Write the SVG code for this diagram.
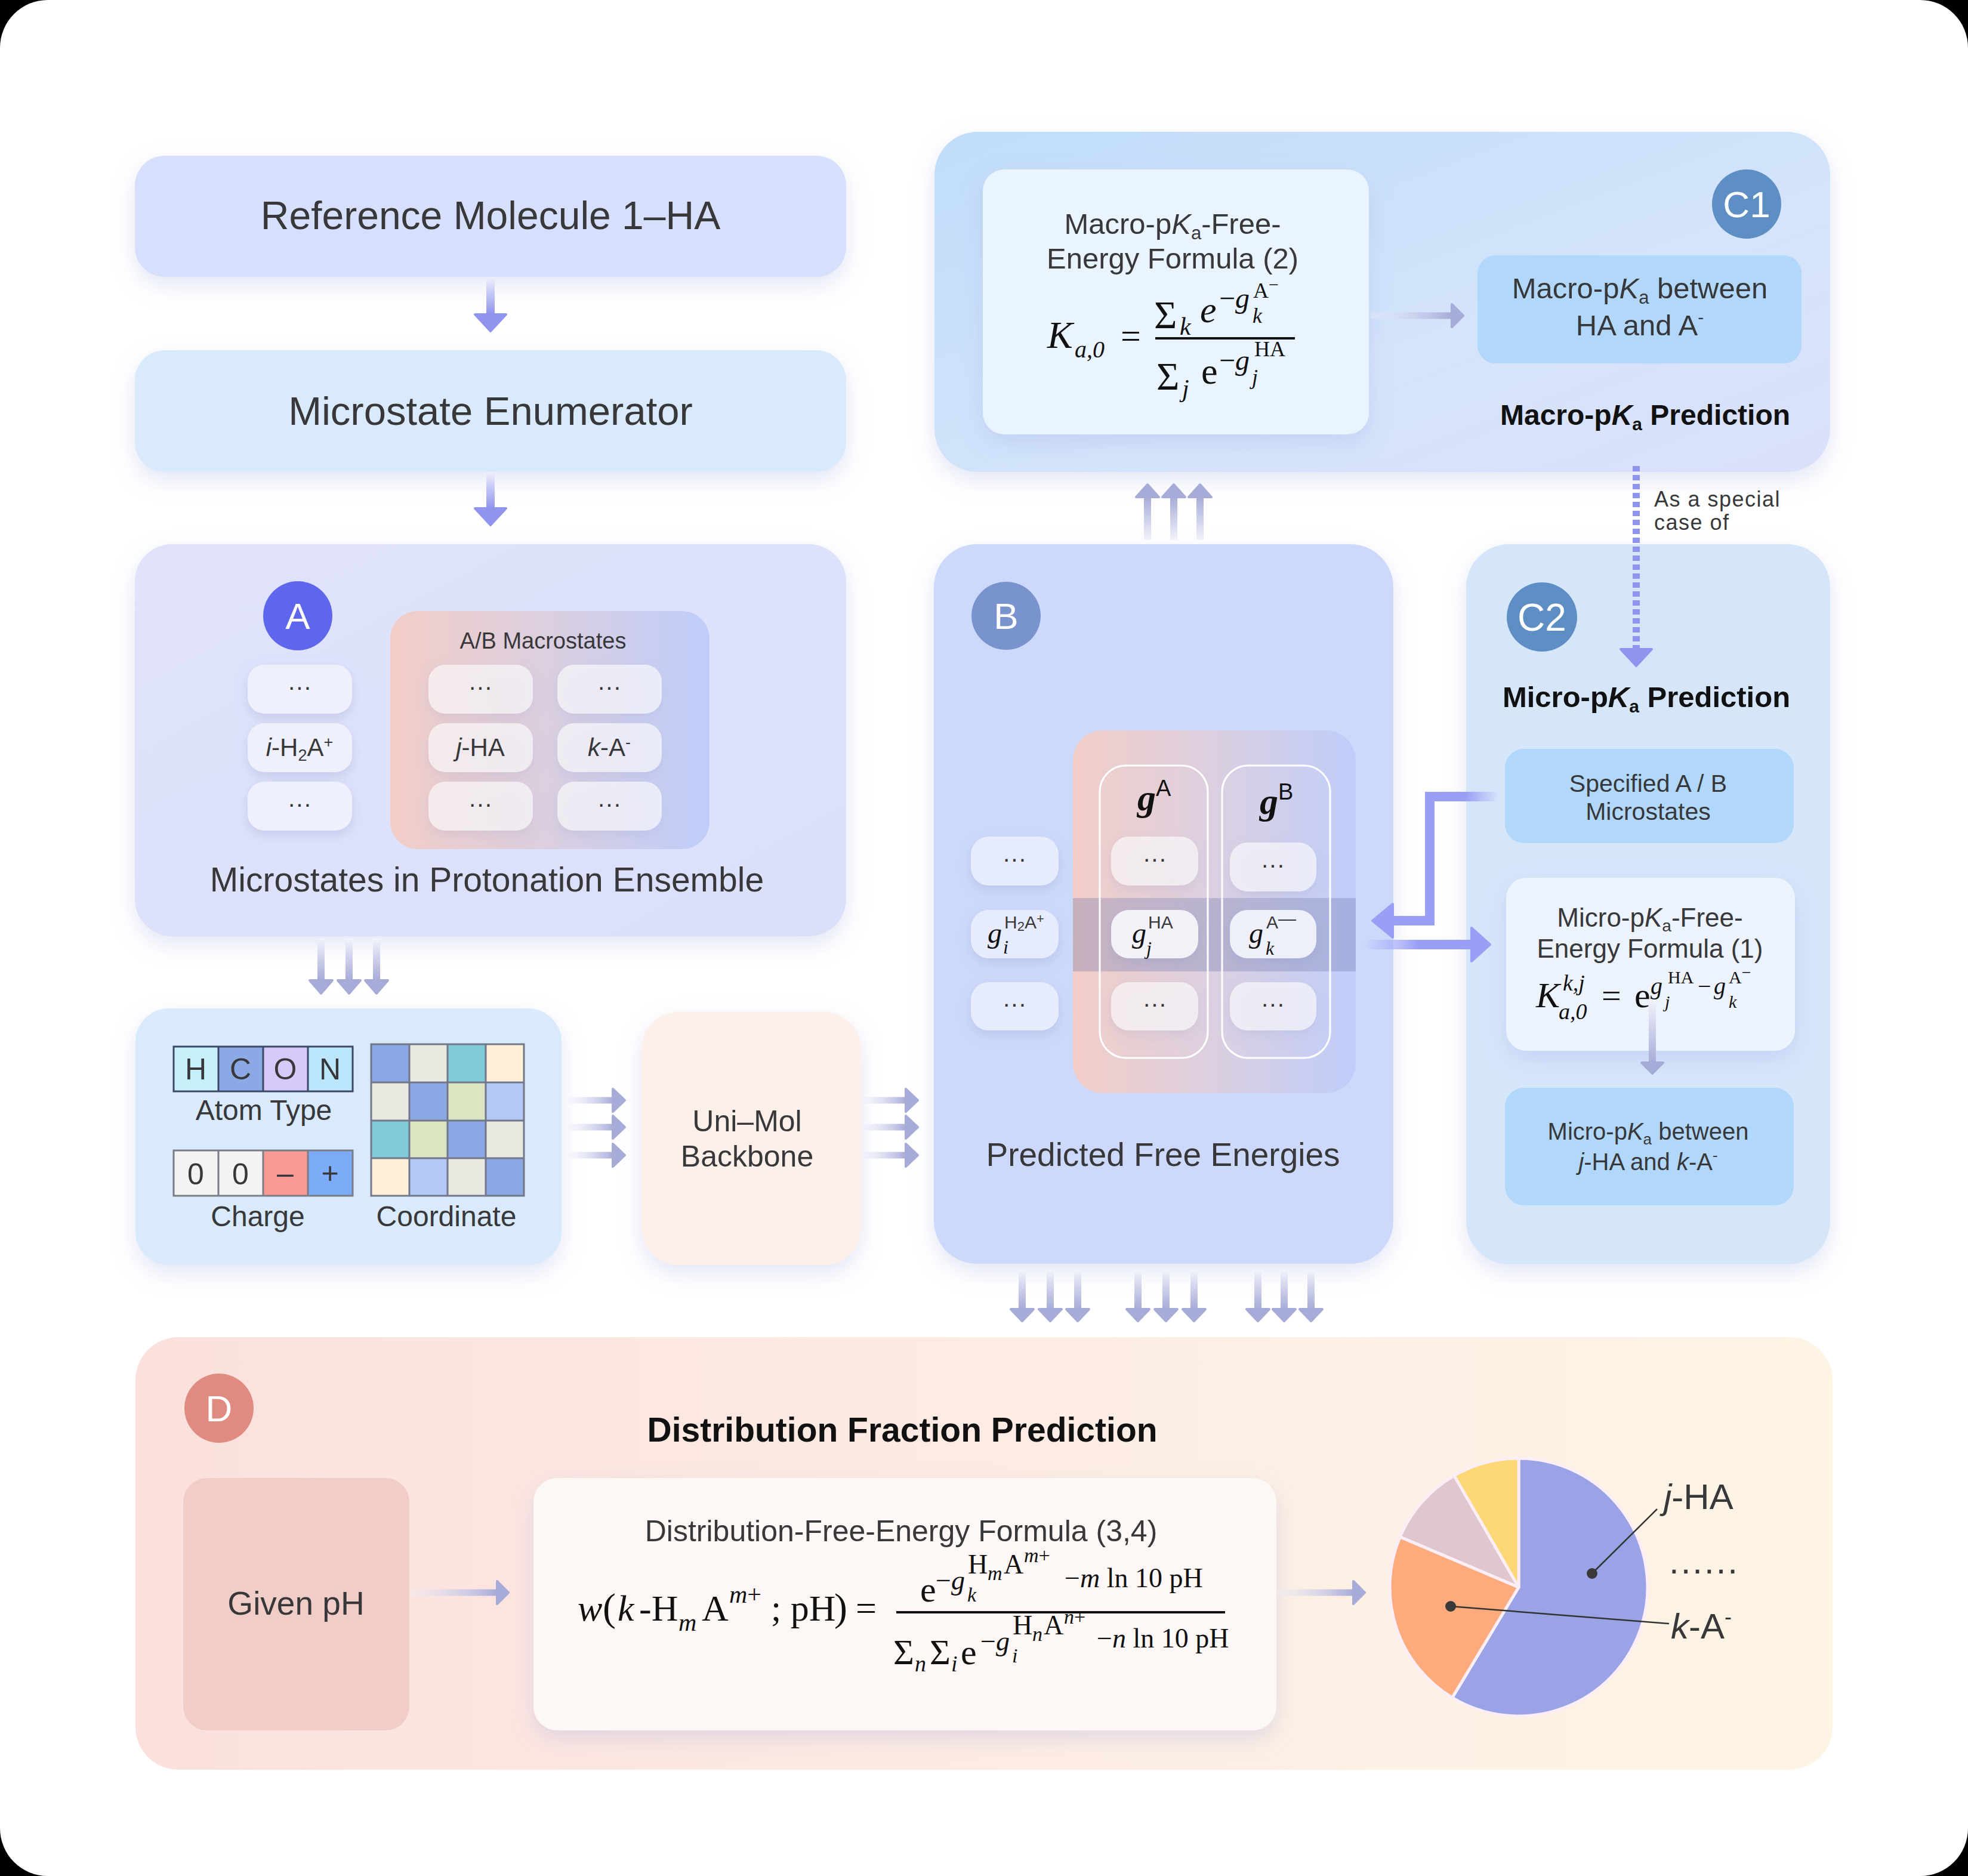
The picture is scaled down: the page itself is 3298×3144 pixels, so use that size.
<svg xmlns="http://www.w3.org/2000/svg" width="3298" height="3144" viewBox="0 0 3298 3144">
<defs>
<style>
text{font-family:"Liberation Sans",Arial,sans-serif;fill:#38383b}
.c{text-anchor:middle}
.m{font-family:"Liberation Serif","Times New Roman",serif;fill:#111}
.i{font-style:italic}
.b{font-weight:bold;fill:#111}
.bd{fill:#fff;text-anchor:middle}
.dt{font-size:40px;text-anchor:middle;fill:#333}
.sb{fill:#fff;fill-opacity:0.62}
.ah{stroke-linejoin:round;stroke-width:4}
</style>
<filter id="sh" x="-10%" y="-15%" width="120%" height="140%"><feDropShadow dx="0" dy="14" stdDeviation="18" flood-color="#9aa3dc" flood-opacity="0.28"/></filter>
<filter id="shs" x="-30%" y="-30%" width="160%" height="180%"><feDropShadow dx="0" dy="8" stdDeviation="10" flood-color="#8f96c8" flood-opacity="0.3"/></filter>
<linearGradient id="gV" x1="0" y1="0" x2="0" y2="1"><stop offset="0" stop-color="#eef0fd"/><stop offset="1" stop-color="#8f94ee"/></linearGradient>
<linearGradient id="gT" x1="0" y1="0" x2="0" y2="1"><stop offset="0" stop-color="#f2f3fb"/><stop offset="1" stop-color="#a7abd8"/></linearGradient>
<linearGradient id="gTU" x1="0" y1="0" x2="0" y2="1"><stop offset="0" stop-color="#a7abd8"/><stop offset="1" stop-color="#f2f3fb"/></linearGradient>
<linearGradient id="gH" x1="0" y1="0" x2="1" y2="0"><stop offset="0" stop-color="#eceefa" stop-opacity="0.3"/><stop offset="1" stop-color="#a7abd8"/></linearGradient>
<linearGradient id="gCa" x1="0" y1="0" x2="1" y2="0"><stop offset="0.55" stop-color="#9a9ff6"/><stop offset="1" stop-color="#9a9ff6" stop-opacity="0"/></linearGradient>
<linearGradient id="gCb" x1="0" y1="0" x2="1" y2="0"><stop offset="0" stop-color="#9a9ff6" stop-opacity="0"/><stop offset="0.5" stop-color="#9a9ff6"/></linearGradient>
<linearGradient id="gAB" x1="0" y1="0" x2="1" y2="0"><stop offset="0" stop-color="#f2cdc7"/><stop offset="0.5" stop-color="#dbcfe0"/><stop offset="1" stop-color="#bfcdfa"/></linearGradient>
<linearGradient id="gC1" x1="0" y1="0" x2="1" y2="1"><stop offset="0" stop-color="#c0ddf9"/><stop offset="0.6" stop-color="#d4e4fb"/><stop offset="1" stop-color="#dbe0fb"/></linearGradient>
<linearGradient id="gD" x1="0" y1="0" x2="1" y2="0"><stop offset="0" stop-color="#fbe0dd"/><stop offset="0.6" stop-color="#fdeee5"/><stop offset="1" stop-color="#fdf4e4"/></linearGradient>
<linearGradient id="gA" x1="0" y1="0" x2="1" y2="1"><stop offset="0" stop-color="#e0e3fb"/><stop offset="1" stop-color="#dcdffa"/></linearGradient>
</defs>

<rect x="0" y="0" width="3298" height="3144" fill="#000"/>
<rect x="0" y="0" width="3298" height="3144" rx="80" fill="#fff"/>

<g id="ref-molecule">
<rect x="226" y="261" width="1192" height="203" rx="50" fill="#d6e0fc" filter="url(#sh)"/>
<text class="c" x="822" y="384" font-size="66">Reference Molecule 1–HA</text>
</g>

<g id="microstate-enumerator">
<rect x="226" y="587" width="1192" height="204" rx="50" fill="#d9eafd" filter="url(#sh)"/>
<text class="c" x="822" y="712" font-size="67">Microstate Enumerator</text>
</g>

<g id="panel-A">
<rect x="226" y="912" width="1192" height="657" rx="62" fill="url(#gA)" filter="url(#sh)"/>
<circle cx="499" cy="1032" r="58" fill="#5f66ee"/>
<text class="bd" x="499" y="1054" font-size="62">A</text>
<rect x="654" y="1024" width="535" height="399" rx="46" fill="url(#gAB)"/>
<text class="c" x="910" y="1087" font-size="38">A/B Macrostates</text>
<g filter="url(#shs)">
<rect x="415" y="1114" width="175" height="82" rx="28" fill="#eef0fc"/>
<rect x="415" y="1212" width="175" height="82" rx="28" fill="#eef0fc"/>
<rect x="415" y="1310" width="175" height="82" rx="28" fill="#eef0fc"/>
<rect class="sb" x="718" y="1114" width="175" height="82" rx="28"/>
<rect class="sb" x="718" y="1212" width="175" height="82" rx="28"/>
<rect class="sb" x="718" y="1310" width="175" height="82" rx="28"/>
<rect class="sb" x="934" y="1114" width="175" height="82" rx="28"/>
<rect class="sb" x="934" y="1212" width="175" height="82" rx="28"/>
<rect class="sb" x="934" y="1310" width="175" height="82" rx="28"/>
</g>
<text class="dt" x="502" y="1165">···</text>
<text class="dt" x="502" y="1361">···</text>
<text class="dt" x="805" y="1165">···</text>
<text class="dt" x="805" y="1361">···</text>
<text class="dt" x="1021" y="1165">···</text>
<text class="dt" x="1021" y="1361">···</text>
<text class="c" x="502" y="1267" font-size="42" fill="#222"><tspan class="i">i</tspan>-H<tspan font-size="27" dy="8">2</tspan><tspan dy="-8">A</tspan><tspan font-size="27" dy="-14">+</tspan></text>
<text class="c" x="805" y="1267" font-size="42" fill="#222"><tspan class="i">j</tspan>-HA</text>
<text class="c" x="1021" y="1267" font-size="42" fill="#222"><tspan class="i">k</tspan>-A<tspan font-size="27" dy="-14">-</tspan></text>
<text class="c" x="816" y="1494" font-size="57">Microstates in Protonation Ensemble</text>
</g>

<g id="input-features">
<rect x="227" y="1690" width="714" height="430" rx="56" fill="#d9eafc" filter="url(#sh)"/>
<rect x="291" y="1754" width="75" height="75" fill="#c6f0fb"/>
<rect x="366" y="1754" width="75" height="75" fill="#8ba9e4"/>
<rect x="441" y="1754" width="75" height="75" fill="#d7c9f9"/>
<rect x="516" y="1754" width="75" height="75" fill="#bbe6fc"/>
<path d="M291 1754H591V1829H291Z M366 1754V1829 M441 1754V1829 M516 1754V1829" fill="none" stroke="#3c4866" stroke-width="3"/>
<text class="c" x="328" y="1809" font-size="50" fill="#111">H</text>
<text class="c" x="403" y="1809" font-size="50" fill="#111">C</text>
<text class="c" x="478" y="1809" font-size="50" fill="#111">O</text>
<text class="c" x="553" y="1809" font-size="50" fill="#111">N</text>
<text class="c" x="442" y="1877" font-size="48">Atom Type</text>
<rect x="291" y="1928" width="75" height="76" fill="#f3f3f3"/>
<rect x="366" y="1928" width="75" height="76" fill="#f3f3f3"/>
<rect x="441" y="1928" width="75" height="76" fill="#fa9a94"/>
<rect x="516" y="1928" width="75" height="76" fill="#7cabf7"/>
<path d="M291 1928H591V2004H291Z M366 1928V2004 M441 1928V2004 M516 1928V2004" fill="none" stroke="#7a7d86" stroke-width="3"/>
<text class="c" x="328" y="1985" font-size="50" fill="#111">0</text>
<text class="c" x="403" y="1985" font-size="50" fill="#111">0</text>
<text class="c" x="478" y="1983" font-size="50" fill="#111">–</text>
<text class="c" x="553" y="1983" font-size="50" fill="#111">+</text>
<text class="c" x="432" y="2055" font-size="48">Charge</text>
<g id="coord-grid">
<rect x="622" y="1750" width="64" height="64" fill="#8aa8e4"/>
<rect x="686" y="1750" width="64" height="64" fill="#e8e9e1"/>
<rect x="750" y="1750" width="64" height="64" fill="#80cbd8"/>
<rect x="814" y="1750" width="64" height="64" fill="#fef0d6"/>
<rect x="622" y="1814" width="64" height="64" fill="#e8e9e1"/>
<rect x="686" y="1814" width="64" height="64" fill="#8aa8e4"/>
<rect x="750" y="1814" width="64" height="64" fill="#dde6c3"/>
<rect x="814" y="1814" width="64" height="64" fill="#b4c8f8"/>
<rect x="622" y="1878" width="64" height="63" fill="#80cbd8"/>
<rect x="686" y="1878" width="64" height="63" fill="#dde6c3"/>
<rect x="750" y="1878" width="64" height="63" fill="#8aa8e4"/>
<rect x="814" y="1878" width="64" height="63" fill="#e8e9e1"/>
<rect x="622" y="1941" width="64" height="63" fill="#fef0d6"/>
<rect x="686" y="1941" width="64" height="63" fill="#b4c8f8"/>
<rect x="750" y="1941" width="64" height="63" fill="#e8e9e1"/>
<rect x="814" y="1941" width="64" height="63" fill="#8aa8e4"/>
<path d="M622 1750H878V2004H622Z M686 1750V2004 M750 1750V2004 M814 1750V2004 M622 1814H878 M622 1878H878 M622 1941H878" fill="none" stroke="#72778a" stroke-width="3"/>
</g>
<text class="c" x="748" y="2055" font-size="48">Coordinate</text>
</g>

<g id="unimol-backbone">
<rect x="1075" y="1696" width="368" height="424" rx="62" fill="#fdefea" filter="url(#sh)"/>
<text class="c" x="1252" y="1896" font-size="50">Uni–Mol</text>
<text class="c" x="1252" y="1955" font-size="50">Backbone</text>
</g>

<g id="panel-B">
<rect x="1565" y="912" width="770" height="1206" rx="72" fill="#cdd9fb" filter="url(#sh)"/>
<ellipse cx="1686" cy="1032" rx="58" ry="57" fill="#7893cd"/>
<text class="bd" x="1686" y="1054" font-size="62">B</text>
<rect x="1798" y="1224" width="474" height="608" rx="50" fill="url(#gAB)"/>
<rect x="1798" y="1505" width="474" height="123" fill="#6e73aa" fill-opacity="0.32"/>
<rect x="1843" y="1283" width="181" height="490" rx="44" fill="#fff" fill-opacity="0.04" stroke="#fff" stroke-width="3"/>
<rect x="2048" y="1283" width="181" height="490" rx="44" fill="#fff" fill-opacity="0.04" stroke="#fff" stroke-width="3"/>
<text x="1906" y="1358" class="m b i" font-size="62">g<tspan font-family="Liberation Sans, Arial, sans-serif" font-style="normal" font-weight="normal" font-size="38" dy="-24">A</tspan></text>
<text x="2111" y="1364" class="m b i" font-size="62">g<tspan font-family="Liberation Sans, Arial, sans-serif" font-style="normal" font-weight="normal" font-size="38" dy="-24">B</tspan></text>
<g filter="url(#shs)">
<rect x="1627" y="1402" width="147" height="82" rx="30" fill="#e7ecfd"/>
<rect x="1627" y="1525" width="147" height="81" rx="30" fill="#e7ecfd"/>
<rect x="1627" y="1646" width="147" height="81" rx="30" fill="#e7ecfd"/>
<rect class="sb" x="1862" y="1402" width="146" height="82" rx="30"/>
<rect x="1862" y="1525" width="146" height="81" rx="30" fill="#f1f1f7"/>
<rect class="sb" x="1862" y="1646" width="146" height="81" rx="30"/>
<rect class="sb" x="2061" y="1412" width="145" height="82" rx="30"/>
<rect x="2061" y="1525" width="145" height="81" rx="30" fill="#eef0f9"/>
<rect class="sb" x="2061" y="1646" width="145" height="81" rx="30"/>
</g>
<text class="dt" x="1700" y="1453">···</text>
<text class="dt" x="1700" y="1696">···</text>
<text class="dt" x="1935" y="1453">···</text>
<text class="dt" x="1935" y="1696">···</text>
<text class="dt" x="2133" y="1463">···</text>
<text class="dt" x="2133" y="1696">···</text>
<text class="m i" x="1655" y="1580" font-size="48" fill="#222">g</text>
<text class="m i" x="1681" y="1598" font-size="32" fill="#222">i</text>
<text x="1683" y="1556" font-size="30" fill="#222">H<tspan font-size="22" dy="4">2</tspan><tspan dy="-4">A</tspan><tspan font-size="22" dy="-9">+</tspan></text>
<text class="m i" x="1897" y="1580" font-size="48" fill="#222">g</text>
<text class="m i" x="1921" y="1600" font-size="32" fill="#222">j</text>
<text x="1924" y="1556" font-size="30" fill="#222">HA</text>
<text class="m i" x="2093" y="1580" font-size="48" fill="#222">g</text>
<text class="m i" x="2121" y="1600" font-size="32" fill="#222">k</text>
<text x="2122" y="1556" font-size="30" fill="#222">A<tspan dy="-6">—</tspan></text>
<text class="c" x="1949" y="1954" font-size="55">Predicted Free Energies</text>
</g>

<g id="panel-C1">
<rect x="1566" y="221" width="1501" height="570" rx="72" fill="url(#gC1)" filter="url(#sh)"/>
<rect x="1647" y="284" width="647" height="444" rx="36" fill="#eaf4fe" filter="url(#sh)"/>
<text class="c" x="1965" y="392" font-size="49" fill="#111">Macro-p<tspan class="i">K</tspan><tspan font-size="31" dy="9">a</tspan><tspan dy="-9">-Free-</tspan></text>
<text class="c" x="1965" y="450" font-size="49" fill="#111">Energy Formula (2)</text>
<text class="m i" x="1755" y="583" font-size="64">K</text>
<text class="m i" x="1801" y="599" font-size="40">a,0</text>
<text class="m" x="1878" y="583" font-size="60">=</text>
<line x1="1936" y1="567" x2="2170" y2="567" stroke="#111" stroke-width="4"/>
<text class="m" x="1934" y="550" font-size="66">Σ</text>
<text class="m i" x="1977" y="561" font-size="42">k</text>
<text class="m i" x="2011" y="540" font-size="62">e</text>
<text class="m" x="2043" y="516" font-size="48">−<tspan class="i">g</tspan></text>
<text class="m i" x="2099" y="541" font-size="36">k</text>
<text class="m" x="2100" y="499" font-size="36">A<tspan dy="-12" font-size="30">−</tspan></text>
<text class="m" x="1938" y="653" font-size="66">Σ</text>
<text class="m i" x="1981" y="665" font-size="42">j</text>
<text class="m" x="2013" y="643" font-size="62">e</text>
<text class="m" x="2043" y="620" font-size="48">−<tspan class="i">g</tspan></text>
<text class="m i" x="2098" y="644" font-size="36">j</text>
<text class="m" x="2102" y="597" font-size="36">HA</text>
<rect x="2476" y="428" width="543" height="181" rx="30" fill="#b1d8fb"/>
<text class="c" x="2748" y="500" font-size="49" fill="#111">Macro-p<tspan class="i">K</tspan><tspan font-size="31" dy="9">a</tspan><tspan dy="-9"> between</tspan></text>
<text class="c" x="2748" y="562" font-size="49" fill="#111">HA and A<tspan font-size="30" dy="-20">-</tspan></text>
<circle cx="2927" cy="342" r="58" fill="#5e8fc4"/>
<text class="bd" x="2927" y="364" font-size="62">C1</text>
<text class="c b" x="2757" y="712" font-size="48">Macro-p<tspan class="i">K</tspan><tspan font-size="30" dy="9">a</tspan><tspan dy="-9"> Prediction</tspan></text>
</g>

<g id="special-case-label">
<text x="2772" y="849" font-size="36" fill="#333" letter-spacing="1.5">As a special</text>
<text x="2772" y="888" font-size="36" fill="#333" letter-spacing="1.5">case of</text>
</g>

<g id="panel-C2">
<rect x="2457" y="912" width="610" height="1207" rx="72" fill="#d5e6fb" filter="url(#sh)"/>
<ellipse cx="2584" cy="1034" rx="59" ry="58" fill="#5e8fc4"/>
<text class="bd" x="2584" y="1057" font-size="64">C2</text>
<text class="c b" x="2759" y="1185" font-size="49">Micro-p<tspan class="i">K</tspan><tspan font-size="30" dy="9">a</tspan><tspan dy="-9"> Prediction</tspan></text>
<rect x="2522" y="1255" width="484" height="158" rx="32" fill="#b1d8fb"/>
<text class="c" x="2762" y="1327" font-size="41">Specified A / B</text>
<text class="c" x="2762" y="1374" font-size="41">Microstates</text>
<rect x="2524" y="1471" width="484" height="290" rx="34" fill="#ecf3fd" filter="url(#sh)"/>
<text class="c" x="2765" y="1553" font-size="44" fill="#111">Micro-p<tspan class="i">K</tspan><tspan font-size="28" dy="8">a</tspan><tspan dy="-8">-Free-</tspan></text>
<text class="c" x="2765" y="1605" font-size="44" fill="#111">Energy Formula (1)</text>
<text class="m i" x="2574" y="1688" font-size="60">K</text>
<text class="m i" x="2619" y="1660" font-size="38">k,j</text>
<text class="m i" x="2612" y="1708" font-size="38">a,0</text>
<text class="m" x="2684" y="1688" font-size="58">=</text>
<text class="m" x="2739" y="1688" font-size="60">e</text>
<text class="m i" x="2766" y="1666" font-size="40">g</text>
<text class="m i" x="2790" y="1689" font-size="30">j</text>
<text class="m" x="2795" y="1648" font-size="30">HA</text>
<text class="m" x="2845" y="1666" font-size="40">−</text>
<text class="m i" x="2872" y="1666" font-size="40">g</text>
<text class="m i" x="2897" y="1689" font-size="30">k</text>
<text class="m" x="2897" y="1648" font-size="30">A<tspan dy="-9" font-size="28">−</tspan></text>
<rect x="2522" y="1823" width="484" height="197" rx="32" fill="#b1d8fb"/>
<text class="c" x="2762" y="1910" font-size="40">Micro-p<tspan class="i">K</tspan><tspan font-size="26" dy="8">a</tspan><tspan dy="-8"> between</tspan></text>
<text class="c" x="2762" y="1961" font-size="40"><tspan class="i">j</tspan>-HA and <tspan class="i">k</tspan>-A<tspan font-size="26" dy="-16">-</tspan></text>
</g>

<g id="panel-D">
<rect x="227" y="2241" width="2844" height="725" rx="72" fill="url(#gD)"/>
<circle cx="367" cy="2360" r="58" fill="#e08b80"/>
<text class="bd" x="367" y="2382" font-size="62">D</text>
<text class="c b" x="1512" y="2416" font-size="57">Distribution Fraction Prediction</text>
<rect x="307" y="2477" width="379" height="423" rx="40" fill="#f1cdc7"/>
<text class="c" x="496" y="2706" font-size="55">Given pH</text>
<rect x="894" y="2477" width="1245" height="423" rx="40" fill="#fdf8f6" filter="url(#sh)"/>
<text class="c" x="1510" y="2583" font-size="50" fill="#111">Distribution-Free-Energy Formula (3,4)</text>
<text class="m i" x="968" y="2716" font-size="62">w</text>
<text class="m" x="1010" y="2716" font-size="66">(</text>
<text class="m i" x="1035" y="2716" font-size="62">k</text>
<text class="m" x="1071" y="2716" font-size="62">-H</text>
<text class="m i" x="1137" y="2733" font-size="42">m</text>
<text class="m" x="1176" y="2716" font-size="62">A</text>
<text class="m" x="1222" y="2686" font-size="42"><tspan class="i">m</tspan>+</text>
<text class="m" x="1292" y="2716" font-size="62">; pH</text>
<text class="m" x="1398" y="2716" font-size="66">)</text>
<text class="m" x="1434" y="2716" font-size="62">=</text>
<line x1="1502" y1="2702" x2="2053" y2="2702" stroke="#111" stroke-width="4"/>
<text class="m" x="1542" y="2684" font-size="60">e</text>
<text class="m" x="1568" y="2664" font-size="46">−<tspan class="i">g</tspan></text>
<text class="m i" x="1621" y="2684" font-size="34">k</text>
<text class="m" x="1622" y="2637" font-size="46">H</text>
<text class="m i" x="1655" y="2648" font-size="34">m</text>
<text class="m" x="1682" y="2637" font-size="46">A</text>
<text class="m" x="1716" y="2618" font-size="34"><tspan class="i">m</tspan>+</text>
<text class="m" x="1784" y="2660" font-size="46">−<tspan class="i">m</tspan> ln 10 pH</text>
<text class="m" x="1497" y="2789" font-size="60">Σ</text>
<text class="m i" x="1533" y="2801" font-size="38">n</text>
<text class="m" x="1558" y="2789" font-size="60">Σ</text>
<text class="m i" x="1594" y="2801" font-size="38">i</text>
<text class="m" x="1610" y="2789" font-size="60">e</text>
<text class="m" x="1643" y="2766" font-size="46">−<tspan class="i">g</tspan></text>
<text class="m i" x="1696" y="2786" font-size="34">i</text>
<text class="m" x="1697" y="2739" font-size="46">H</text>
<text class="m i" x="1730" y="2750" font-size="34">n</text>
<text class="m" x="1749" y="2739" font-size="46">A</text>
<text class="m" x="1783" y="2721" font-size="34"><tspan class="i">n</tspan>+</text>
<text class="m" x="1838" y="2761" font-size="46">−<tspan class="i">n</tspan> ln 10 pH</text>
<g id="pie" stroke="#fbeef6" stroke-width="5" stroke-linejoin="round">
<path d="M2545 2660L2545 2444A216 216 0 1 1 2433.7 2845.1Z" fill="#99a3e6"/>
<path d="M2545 2660L2433.7 2845.1A216 216 0 0 1 2346.2 2575.6Z" fill="#fdaa7c"/>
<path d="M2545 2660L2346.2 2575.6A216 216 0 0 1 2437 2472.9Z" fill="#dfc6cf"/>
<path d="M2545 2660L2437 2472.9A216 216 0 0 1 2545 2444Z" fill="#fed777"/>
</g>
<line x1="2668" y1="2637" x2="2777" y2="2529" stroke="#333" stroke-width="2.5"/>
<line x1="2431" y1="2692" x2="2797" y2="2721" stroke="#333" stroke-width="2.5"/>
<circle cx="2668" cy="2637" r="9" fill="#3a3a3a"/>
<circle cx="2431" cy="2692" r="9" fill="#3a3a3a"/>
<text x="2788" y="2529" font-size="60" fill="#111"><tspan class="i">j</tspan>-HA</text>
<text x="2797" y="2637" font-size="60" fill="#111" letter-spacing="3">......</text>
<text x="2800" y="2746" font-size="60" fill="#111"><tspan class="i">k</tspan>-A<tspan font-size="36" dy="-24">-</tspan></text>
</g>

<g id="connectors">
<rect x="815" y="465" width="14" height="62" fill="url(#gV)"/>
<polygon class="ah" points="796,527 848,527 822,555" fill="#8f94ee" stroke="#8f94ee"/>
<rect x="815" y="791" width="14" height="61" fill="url(#gV)"/>
<polygon class="ah" points="796,852 848,852 822,880" fill="#8f94ee" stroke="#8f94ee"/>
<g fill="#a7abd8" stroke="#a7abd8">
<rect x="532" y="1573" width="12" height="70" fill="url(#gT)" stroke="none"/>
<rect x="579" y="1573" width="12" height="70" fill="url(#gT)" stroke="none"/>
<rect x="625" y="1573" width="12" height="70" fill="url(#gT)" stroke="none"/>
<polygon class="ah" points="519,1643 557,1643 538,1665"/>
<polygon class="ah" points="566,1643 604,1643 585,1665"/>
<polygon class="ah" points="612,1643 650,1643 631,1665"/>
<rect x="952" y="1838.5" width="76" height="11" fill="url(#gH)" stroke="none"/>
<rect x="952" y="1883.5" width="76" height="11" fill="url(#gH)" stroke="none"/>
<rect x="952" y="1930.5" width="76" height="11" fill="url(#gH)" stroke="none"/>
<polygon class="ah" points="1027,1825 1047,1844 1027,1863"/>
<polygon class="ah" points="1027,1870 1047,1889 1027,1908"/>
<polygon class="ah" points="1027,1917 1047,1936 1027,1955"/>
<rect x="1444" y="1838.5" width="74" height="11" fill="url(#gH)" stroke="none"/>
<rect x="1444" y="1883.5" width="74" height="11" fill="url(#gH)" stroke="none"/>
<rect x="1444" y="1930.5" width="74" height="11" fill="url(#gH)" stroke="none"/>
<polygon class="ah" points="1518,1825 1538,1844 1518,1863"/>
<polygon class="ah" points="1518,1870 1538,1889 1518,1908"/>
<polygon class="ah" points="1518,1917 1538,1936 1518,1955"/>
<rect x="1917" y="833" width="12" height="72" fill="url(#gTU)" stroke="none"/>
<rect x="1961" y="833" width="12" height="72" fill="url(#gTU)" stroke="none"/>
<rect x="2005" y="833" width="12" height="72" fill="url(#gTU)" stroke="none"/>
<polygon class="ah" points="1904,833 1942,833 1923,812"/>
<polygon class="ah" points="1948,833 1986,833 1967,812"/>
<polygon class="ah" points="1992,833 2030,833 2011,812"/>
<rect x="1707" y="2128" width="12" height="66" fill="url(#gT)" stroke="none"/>
<rect x="1754" y="2128" width="12" height="66" fill="url(#gT)" stroke="none"/>
<rect x="1800" y="2128" width="12" height="66" fill="url(#gT)" stroke="none"/>
<rect x="1901" y="2128" width="12" height="66" fill="url(#gT)" stroke="none"/>
<rect x="1948" y="2128" width="12" height="66" fill="url(#gT)" stroke="none"/>
<rect x="1995" y="2128" width="12" height="66" fill="url(#gT)" stroke="none"/>
<rect x="2102" y="2128" width="12" height="66" fill="url(#gT)" stroke="none"/>
<rect x="2146" y="2128" width="12" height="66" fill="url(#gT)" stroke="none"/>
<rect x="2191" y="2128" width="12" height="66" fill="url(#gT)" stroke="none"/>
<polygon class="ah" points="1694,2194 1732,2194 1713,2214"/>
<polygon class="ah" points="1741,2194 1779,2194 1760,2214"/>
<polygon class="ah" points="1787,2194 1825,2194 1806,2214"/>
<polygon class="ah" points="1888,2194 1926,2194 1907,2214"/>
<polygon class="ah" points="1935,2194 1973,2194 1954,2214"/>
<polygon class="ah" points="1982,2194 2020,2194 2001,2214"/>
<polygon class="ah" points="2089,2194 2127,2194 2108,2214"/>
<polygon class="ah" points="2133,2194 2171,2194 2152,2214"/>
<polygon class="ah" points="2178,2194 2216,2194 2197,2214"/>
<rect x="2297" y="523.5" width="136" height="11" fill="url(#gH)" stroke="none"/>
<polygon class="ah" points="2433,510 2452,529 2433,548"/>
<rect x="689" y="2663.5" width="144" height="11" fill="url(#gH)" stroke="none"/>
<polygon class="ah" points="833,2650 852,2669 833,2688"/>
<rect x="2141" y="2663.5" width="127" height="11" fill="url(#gH)" stroke="none"/>
<polygon class="ah" points="2268,2650 2287,2669 2268,2688"/>
<rect x="2763" y="1675" width="12" height="106" fill="url(#gT)" stroke="none"/>
<polygon class="ah" points="2751,1781 2787,1781 2769,1799"/>
</g>
<line x1="2742" y1="781" x2="2742" y2="1090" stroke="#8f94ee" stroke-width="12" stroke-dasharray="9 6"/>
<polygon class="ah" points="2716,1088 2768,1088 2742,1116" fill="#8f94ee" stroke="#8f94ee"/>
<rect x="2388" y="1327" width="124" height="16" fill="url(#gCa)"/>
<rect x="2388" y="1327" width="16" height="224" fill="#9a9ff6"/>
<rect x="2328" y="1535" width="76" height="16" fill="#9a9ff6"/>
<polygon class="ah" points="2300,1543 2334,1515 2334,1571" fill="#9a9ff6" stroke="#9a9ff6"/>
<rect x="2283" y="1575" width="186" height="16" fill="url(#gCb)"/>
<polygon class="ah" points="2466,1555 2497,1583 2466,1611" fill="#9a9ff6" stroke="#9a9ff6"/>
</g>
</svg>
